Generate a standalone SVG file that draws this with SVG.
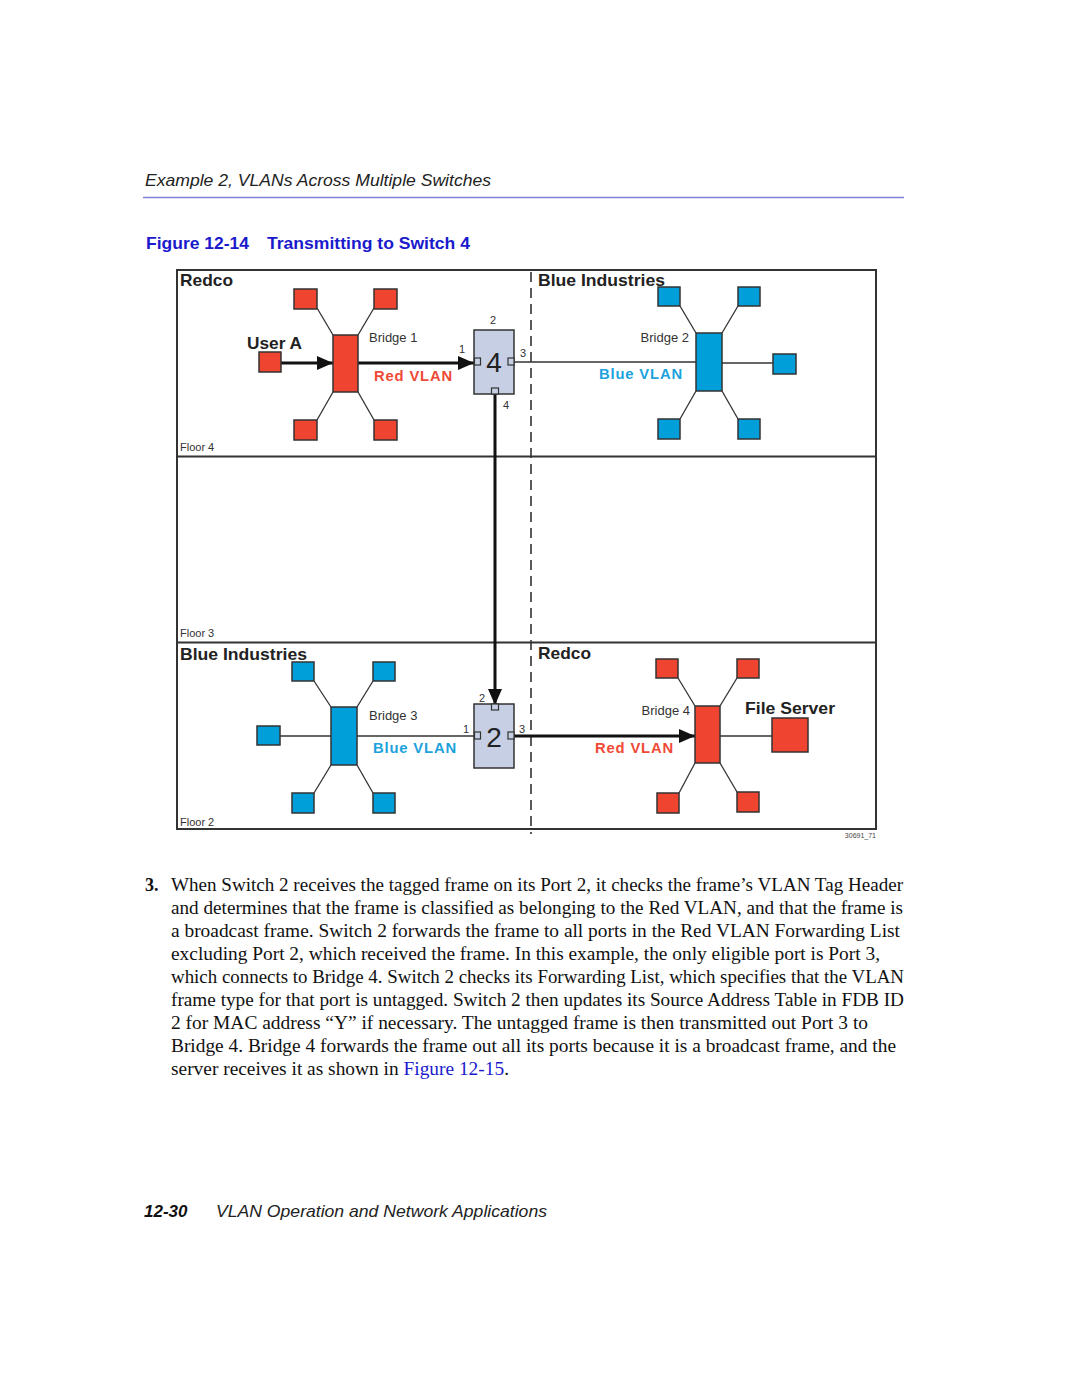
<svg xmlns="http://www.w3.org/2000/svg" width="1080" height="1397" viewBox="0 0 1080 1397">
<defs>
<style>
.sans{font-family:"Liberation Sans",Arial,sans-serif}
.serif{font-family:"Liberation Serif","Times New Roman",serif;font-size:18px;fill:#111}
.zone{font-family:"Liberation Sans",Arial,sans-serif;font-weight:bold;font-size:17px;fill:#222}
.floor{font-family:"Liberation Sans",Arial,sans-serif;font-size:11px;fill:#333}
.blabel{font-family:"Liberation Sans",Arial,sans-serif;font-size:13px;fill:#333}
.port{font-family:"Liberation Sans",Arial,sans-serif;font-size:11px;fill:#333}
.vlan{font-family:"Liberation Sans",Arial,sans-serif;font-weight:bold;font-size:14px;letter-spacing:0.8px}
.red{fill:#ef4430;stroke:#333;stroke-width:1.5}
.blue{fill:#009fda;stroke:#333;stroke-width:1.5}
.sw{fill:#c6cfe4;stroke:#333;stroke-width:1.5}
.pt{fill:#c6cfe4;stroke:#333;stroke-width:1.2}
.thin{stroke:#333;stroke-width:1.3;fill:none}
.thick{stroke:#111;stroke-width:3;fill:none}
</style>
<marker id="ah" markerUnits="userSpaceOnUse" markerWidth="16" markerHeight="14" refX="16" refY="7" orient="auto">
<path d="M0,0 L16,7 L0,14 Z" fill="#111"/>
</marker>
</defs>
<rect width="1080" height="1397" fill="#fff"/>

<g id="header">
<text class="sans" x="145" y="186" font-size="17" font-style="italic" fill="#222" textLength="346" lengthAdjust="spacingAndGlyphs">Example 2, VLANs Across Multiple Switches</text>
<line x1="143" y1="197.5" x2="904" y2="197.5" stroke="#7f7fd6" stroke-width="1.5"/>
<text class="sans" x="146" y="249" font-size="17" font-weight="bold" fill="#1a1acc" textLength="103" lengthAdjust="spacingAndGlyphs">Figure 12-14</text>
<text class="sans" x="267" y="249" font-size="17" font-weight="bold" fill="#1a1acc" textLength="203" lengthAdjust="spacingAndGlyphs">Transmitting to Switch 4</text>
</g>

<g id="frame">
<rect x="177" y="270" width="699" height="559" fill="none" stroke="#333" stroke-width="2"/>
<line x1="177" y1="456.5" x2="876" y2="456.5" stroke="#333" stroke-width="2"/>
<line x1="177" y1="642.5" x2="876" y2="642.5" stroke="#333" stroke-width="2"/>
<line x1="531" y1="272" x2="531" y2="834" stroke="#333" stroke-width="1.6" stroke-dasharray="10,6"/>
<text class="zone" x="180" y="286" textLength="53" lengthAdjust="spacingAndGlyphs">Redco</text>
<text class="zone" x="538" y="286" textLength="127" lengthAdjust="spacingAndGlyphs">Blue Industries</text>
<text class="zone" x="180" y="660" textLength="127" lengthAdjust="spacingAndGlyphs">Blue Industries</text>
<text class="zone" x="538" y="659" textLength="53" lengthAdjust="spacingAndGlyphs">Redco</text>
<text class="floor" x="180" y="451">Floor 4</text>
<text class="floor" x="180" y="637">Floor 3</text>
<text class="floor" x="180" y="826">Floor 2</text>
<text class="sans" x="876" y="838" font-size="7" fill="#444" text-anchor="end">30691_71</text>
</g>

<g id="connectors">
<line class="thin" x1="317" y1="308" x2="333" y2="335"/>
<line class="thin" x1="374" y1="308" x2="358" y2="335"/>
<line class="thin" x1="333" y1="392" x2="317" y2="420"/>
<line class="thin" x1="358" y1="392" x2="374" y2="420"/>
<line class="thick" x1="281" y1="363" x2="333" y2="363" marker-end="url(#ah)"/>
<line class="thick" x1="358" y1="363" x2="474" y2="363" marker-end="url(#ah)"/>
<line class="thin" x1="514" y1="362" x2="696" y2="362"/>
<line class="thin" x1="680" y1="306" x2="696" y2="333"/>
<line class="thin" x1="738" y1="306" x2="722" y2="333"/>
<line class="thin" x1="696" y1="391" x2="680" y2="419"/>
<line class="thin" x1="722" y1="391" x2="738" y2="419"/>
<line class="thin" x1="722" y1="363" x2="773" y2="363"/>
<line class="thick" x1="495" y1="394" x2="495" y2="705" marker-end="url(#ah)"/>
<line class="thin" x1="314" y1="681" x2="331" y2="707"/>
<line class="thin" x1="373" y1="681" x2="357" y2="707"/>
<line class="thin" x1="331" y1="765" x2="314" y2="793"/>
<line class="thin" x1="357" y1="765" x2="373" y2="793"/>
<line class="thin" x1="280" y1="736" x2="331" y2="736"/>
<line class="thin" x1="357" y1="736" x2="474" y2="736"/>
<line class="thick" x1="514" y1="736" x2="695" y2="736" marker-end="url(#ah)"/>
<line class="thin" x1="678" y1="678" x2="695" y2="706"/>
<line class="thin" x1="737" y1="678" x2="720" y2="706"/>
<line class="thin" x1="695" y1="763" x2="679" y2="793"/>
<line class="thin" x1="720" y1="763" x2="737" y2="792"/>
<line class="thin" x1="720" y1="736" x2="772" y2="736"/>
</g>

<g id="bridge1">
<rect class="red" x="333" y="335" width="25" height="57"/>
<text class="blabel" x="369" y="342">Bridge 1</text>
<text class="vlan" x="374" y="381" fill="#ef4a36" textLength="79" lengthAdjust="spacingAndGlyphs">Red VLAN</text>
</g>
<g id="redco4-hosts">
<rect class="red" x="294" y="289" width="23" height="20"/>
<rect class="red" x="374" y="289" width="23" height="20"/>
<rect class="red" x="294" y="420" width="23" height="20"/>
<rect class="red" x="374" y="420" width="23" height="20"/>
</g>
<g id="userA">
<rect class="red" x="259" y="352" width="22" height="20"/>
<text class="zone" x="247" y="349" textLength="55" lengthAdjust="spacingAndGlyphs">User A</text>
</g>

<g id="switch4">
<rect class="sw" x="474" y="330" width="40" height="64"/>
<rect class="pt" x="474.5" y="358" width="6" height="7"/>
<rect class="pt" x="508" y="358" width="6" height="7"/>
<rect class="pt" x="491.5" y="388" width="7" height="6"/>
<text class="sans" x="494" y="372" font-size="28" fill="#222" text-anchor="middle">4</text>
<text class="port" x="493" y="324" text-anchor="middle">2</text>
<text class="port" x="462" y="353" text-anchor="middle">1</text>
<text class="port" x="523" y="357" text-anchor="middle">3</text>
<text class="port" x="506" y="409" text-anchor="middle">4</text>
</g>

<g id="bridge2">
<rect class="blue" x="696" y="333" width="26" height="58"/>
<text class="blabel" x="689" y="342" text-anchor="end">Bridge 2</text>
<text class="vlan" x="599" y="379" fill="#1ca2dc" textLength="84" lengthAdjust="spacingAndGlyphs">Blue VLAN</text>
</g>
<g id="blue4-hosts">
<rect class="blue" x="658" y="287" width="22" height="19"/>
<rect class="blue" x="738" y="287" width="22" height="19"/>
<rect class="blue" x="773" y="354" width="23" height="20"/>
<rect class="blue" x="658" y="419" width="22" height="20"/>
<rect class="blue" x="738" y="419" width="22" height="20"/>
</g>

<g id="bridge3">
<rect class="blue" x="331" y="707" width="26" height="58"/>
<text class="blabel" x="369" y="720">Bridge 3</text>
<text class="vlan" x="373" y="753" fill="#1ca2dc" textLength="84" lengthAdjust="spacingAndGlyphs">Blue VLAN</text>
</g>
<g id="blue2-hosts">
<rect class="blue" x="292" y="662" width="22" height="19"/>
<rect class="blue" x="373" y="662" width="22" height="19"/>
<rect class="blue" x="257" y="726" width="23" height="19"/>
<rect class="blue" x="292" y="793" width="22" height="20"/>
<rect class="blue" x="373" y="793" width="22" height="20"/>
</g>

<g id="switch2">
<rect class="sw" x="474" y="704" width="40" height="64"/>
<rect class="pt" x="491.5" y="704" width="7" height="6"/>
<rect class="pt" x="474.5" y="732" width="6" height="7"/>
<rect class="pt" x="508" y="732" width="6" height="7"/>
<text class="sans" x="494" y="747" font-size="28" fill="#222" text-anchor="middle">2</text>
<text class="port" x="482" y="702" text-anchor="middle">2</text>
<text class="port" x="466" y="733" text-anchor="middle">1</text>
<text class="port" x="522" y="733" text-anchor="middle">3</text>
</g>

<g id="bridge4">
<rect class="red" x="695" y="706" width="25" height="57"/>
<text class="blabel" x="690" y="715" text-anchor="end">Bridge 4</text>
<text class="vlan" x="595" y="753" fill="#ef4a36" textLength="79" lengthAdjust="spacingAndGlyphs">Red VLAN</text>
</g>
<g id="redco2-hosts">
<rect class="red" x="656" y="659" width="22" height="19"/>
<rect class="red" x="737" y="659" width="22" height="19"/>
<rect class="red" x="657" y="793" width="22" height="20"/>
<rect class="red" x="737" y="792" width="22" height="20"/>
</g>
<g id="fileserver">
<rect class="red" x="772" y="718" width="36" height="34"/>
<text class="zone" x="745" y="714" textLength="90" lengthAdjust="spacingAndGlyphs">File Server</text>
</g>

<g id="body">
<text class="serif" x="145" y="891" font-weight="bold">3.</text>
<text class="serif" x="171" y="891" textLength="732" lengthAdjust="spacingAndGlyphs">When Switch 2 receives the tagged frame on its Port 2, it checks the frame’s VLAN Tag Header</text>
<text class="serif" x="171" y="914" textLength="732" lengthAdjust="spacingAndGlyphs">and determines that the frame is classified as belonging to the Red VLAN, and that the frame is</text>
<text class="serif" x="171" y="937" textLength="729" lengthAdjust="spacingAndGlyphs">a broadcast frame. Switch 2 forwards the frame to all ports in the Red VLAN Forwarding List</text>
<text class="serif" x="171" y="960" textLength="709" lengthAdjust="spacingAndGlyphs">excluding Port 2, which received the frame. In this example, the only eligible port is Port 3,</text>
<text class="serif" x="171" y="983" textLength="733" lengthAdjust="spacingAndGlyphs">which connects to Bridge 4. Switch 2 checks its Forwarding List, which specifies that the VLAN</text>
<text class="serif" x="171" y="1006" textLength="733" lengthAdjust="spacingAndGlyphs">frame type for that port is untagged. Switch 2 then updates its Source Address Table in FDB ID</text>
<text class="serif" x="171" y="1029" textLength="697" lengthAdjust="spacingAndGlyphs">2 for MAC address “Y” if necessary. The untagged frame is then transmitted out Port 3 to</text>
<text class="serif" x="171" y="1052" textLength="725" lengthAdjust="spacingAndGlyphs">Bridge 4. Bridge 4 forwards the frame out all its ports because it is a broadcast frame, and the</text>
<text class="serif" x="171" y="1075" textLength="338" lengthAdjust="spacingAndGlyphs">server receives it as shown in <tspan fill="#1a1acc">Figure 12-15</tspan>.</text>
</g>

<g id="footer">
<text class="sans" x="144" y="1217" font-size="17" font-weight="bold" font-style="italic" fill="#111">12-30</text>
<text class="sans" x="216" y="1217" font-size="17" font-style="italic" fill="#222" textLength="331" lengthAdjust="spacingAndGlyphs">VLAN Operation and Network Applications</text>
</g>
</svg>
